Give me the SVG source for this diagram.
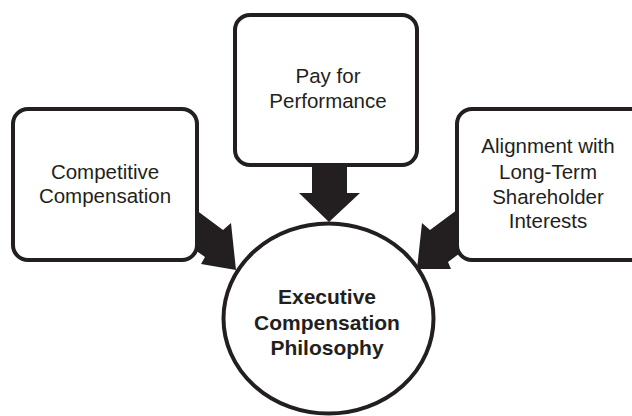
<svg xmlns="http://www.w3.org/2000/svg" width="632" height="416" viewBox="0 0 632 416">
<style>
.box{fill:#fff;stroke:#231f20;stroke-width:4}
.arrow{fill:#231f20;stroke:none}
.t{font-family:"Liberation Sans",Arial,Helvetica,sans-serif;font-size:20.5px;fill:#231f20;text-anchor:middle}
.b{font-weight:bold;font-size:21px}
</style>
<rect width="632" height="416" fill="#fff"/>
<g id="connectors">
<polygon class="arrow" points="184,201 223,230 231,223 236,270 201,264 205,257 171,233"/>
<polygon class="arrow" points="312,160 347,160 347,193 360,193 329,222 299,193 312,193"/>
<polygon class="arrow" points="469,201 430,230 422,223 417,269 451,269 448,262 487,233"/>
</g>
<g id="competitive">
<rect class="box" x="13" y="109" width="184" height="151" rx="15"/>
<text class="t" x="105" y="179">Competitive</text>
<text class="t" x="105" y="203">Compensation</text>
</g>
<g id="pay">
<rect class="box" x="235" y="15" width="182" height="150" rx="15"/>
<text class="t" x="328" y="83">Pay for</text>
<text class="t" x="328" y="108">Performance</text>
</g>
<g id="alignment">
<rect class="box" x="457" y="109" width="190" height="151" rx="15"/>
<text class="t" x="548" y="153">Alignment with</text>
<text class="t" x="548" y="179">Long-Term</text>
<text class="t" x="548" y="204">Shareholder</text>
<text class="t" x="548" y="228">Interests</text>
</g>
<g id="philosophy">
<ellipse class="box" cx="328.5" cy="318.5" rx="105" ry="95" fill="none" style="fill:none"/>
<text class="t b" x="327" y="304">Executive</text>
<text class="t b" x="327" y="330">Compensation</text>
<text class="t b" x="327" y="355">Philosophy</text>
</g>
</svg>
